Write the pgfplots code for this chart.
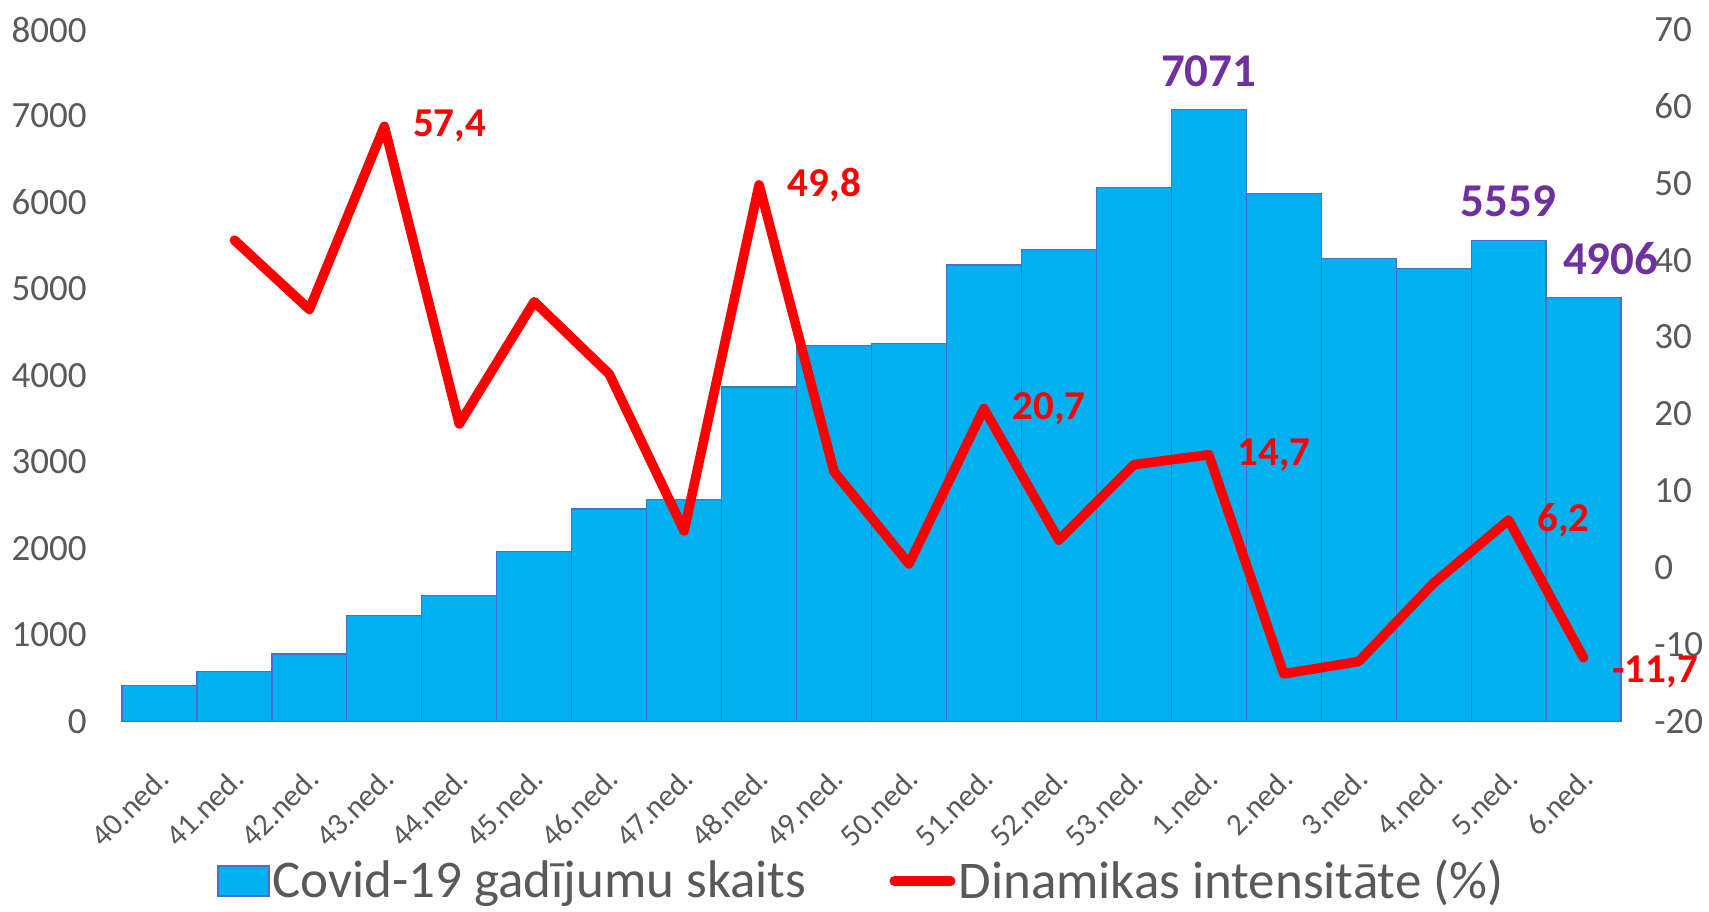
\documentclass[border=0pt]{standalone}
\usepackage{fontspec}
\setmainfont{Carlito}
\usepackage{pgfplots}
\usepackage{pgfplotstable}
\pgfplotsset{compat=1.18}
\definecolor{barblue}{HTML}{00B0F0}
\definecolor{baredge}{HTML}{4472C4}
\definecolor{txtgray}{HTML}{595959}
\definecolor{lblpurple}{HTML}{7030A0}
\definecolor{linered}{HTML}{FF0000}

\pgfplotstableread{
x y lab sh
0 416 {} 0
1 580 {} 0
2 781 {} 0
3 1222 {} 0
4 1461 {} 0
5 1965 {} 0
6 2456 {} 0
7 2569 {} 0
8 3866 {} 0
9 4345 {} 0
10 4370 {} 0
11 5277 {} 0
12 5453 {} 0
13 6171 {} 0
14 7071 7071 0
15 6108 {} 0
16 5353 {} 0
17 5239 {} 0
18 5559 5559 0
19 4906 4906 13.6
}\casestable

\pgfplotstableread{
x y lab dy
1 42.6 {} 0
2 33.6 {} 0
3 57.4 57,4 0
4 18.7 {} 0
5 34.6 {} 0
6 25.2 {} 0
7 4.8 {} 0
8 49.8 49,8 0
9 12.5 {} 0
10 0.5 {} 0
11 20.7 20,7 0
12 3.6 {} 0
13 13.4 {} 0
14 14.7 14,7 0
15 -13.8 {} 0
16 -12.2 {} 0
17 -2.0 {} 0
18 6.2 6,2 0
19 -11.7 -11,7 -7
}\dyntable

\begin{document}
\begin{tikzpicture}
\useasboundingbox (0,0) rectangle (854.5pt,455.5pt);
\pgfplotsset{
  common/.style={at={(61pt,94.75pt)}, anchor=south west, scale only axis,
    width=749.5pt, height=346pt, xmin=-0.5, xmax=19.5, clip=false,
    axis line style={draw=none}, major tick length=0pt, tick style={draw=none},
    /pgf/number format/assume math mode=true, /pgf/number format/1000 sep={},
    ticklabel style={text=txtgray}}
}
\begin{axis}[common,
  ymin=0, ymax=8000, ytick={0,1000,...,8000},
  axis y line*=left, axis x line*=bottom,
  xtick={0,...,19},
  xticklabels={40.ned.,41.ned.,42.ned.,43.ned.,44.ned.,45.ned.,46.ned.,47.ned.,48.ned.,49.ned.,50.ned.,51.ned.,52.ned.,53.ned.,1.ned.,2.ned.,3.ned.,4.ned.,5.ned.,6.ned.},
  xticklabel style={xshift=-2pt, yshift=-22pt, rotate=45, anchor=north east, inner sep=0pt, font=\fontsize{15.5}{17}\selectfont},
  yticklabel style={anchor=east, inner sep=0pt, xshift=-17.5pt, font=\fontsize{18.5}{20}\selectfont},
]
\addplot[ybar, bar width=1, fill=barblue, draw=baredge, line width=0.6pt,
  point meta=explicit symbolic,
  visualization depends on={\thisrow{sh} \as \labshift},
  nodes near coords,
  every node near coord/.style={anchor=center, inner sep=0pt, yshift=19.5pt, xshift=\labshift pt, font=\fontsize{23.5}{26}\selectfont\bfseries, text=lblpurple}
] table[x=x, y=y, meta=lab] {\casestable};
\end{axis}
\begin{axis}[common,
  ymin=-20, ymax=70, ytick={-20,-10,...,70},
  axis y line*=right, axis x line=none,
  yticklabel style={anchor=west, inner sep=0pt, xshift=16.5pt, font=\fontsize{18.5}{20}\selectfont},
  legend style={at={(0.4937,-0.2305)}, anchor=center, draw=none, fill=none,
    legend columns=2, font=\fontsize{26.5}{30}\selectfont, text=txtgray,
    inner sep=0pt, nodes={inner sep=1.5pt},
    /tikz/every even column/.append style={column sep=40pt}},
]
\addlegendimage{legend image code/.code={\draw[fill=barblue, draw=baredge, line width=0.6pt] (0pt,-7.5pt) rectangle (25.5pt,7.5pt);}}
\addlegendentry{Covid-19 gadījumu skaits}
\addplot[linered, line width=4.8pt, line join=round, line cap=round,
  point meta=explicit symbolic,
  visualization depends on={\thisrow{dy} \as \labdy},
  nodes near coords,
  every node near coord/.style={anchor=west, inner sep=0pt, xshift=12pt, yshift=\labdy pt, font=\fontsize{20.5}{23}\selectfont\bfseries, text=linered},
  legend image code/.code={\draw[linered, line width=5pt, line cap=round] (0pt,0pt) -- (28pt,0pt);}
] table[x=x, y=y, meta=lab] {\dyntable};
\addlegendentry{Dinamikas intensitāte (\%)}
\end{axis}
\end{tikzpicture}
\end{document}
